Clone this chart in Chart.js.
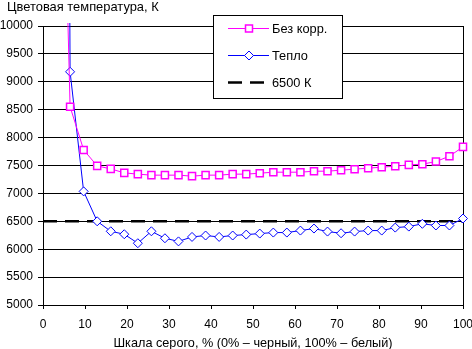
<!DOCTYPE html>
<html>
<head>
<meta charset="utf-8">
<script src="https://cdn.jsdelivr.net/npm/chart.js@4/dist/chart.umd.min.js"></script>
<style>
html,body{margin:0;padding:0;background:#fff;}
#wrap{width:472px;height:349px;position:relative;}
</style>
</head>
<body>
<div id="wrap"><canvas id="c" width="472" height="349"></canvas></div>
<script>
// ---- data ----
const grayPercent = [3.23, 6.45, 9.68, 12.90, 16.13, 19.35, 22.58, 25.81, 29.03, 32.26, 35.48, 38.71, 41.94, 45.16, 48.39, 51.61, 54.84, 58.06, 61.29, 64.52, 67.74, 70.97, 74.19, 77.42, 80.65, 83.87, 87.10, 90.32, 93.55, 96.77, 100];
const noCorrection = [18000, 8554, 7779, 7493, 7439, 7368, 7345, 7327, 7327, 7327, 7309, 7327, 7327, 7345, 7345, 7362, 7380, 7380, 7380, 7398, 7398, 7416, 7434, 7452, 7470, 7488, 7511, 7524, 7571, 7666, 7834];
const warm = [60000, 9179, 7036, 6500, 6321, 6268, 6107, 6321, 6196, 6140, 6220, 6245, 6220, 6245, 6262, 6280, 6298, 6298, 6334, 6370, 6316, 6286, 6316, 6334, 6334, 6387, 6405, 6455, 6425, 6425, 6550];
const referenceX = [0, 100];
const referenceK = [6500, 6500];
const seriesNames = ['Без корр.', 'Тепло', '6500 К'];
const yTitle = 'Цветовая температура, К';
const xTitle = 'Шкала серого, % (0% – черный, 100% – белый)';
const xTicks = [0, 10, 20, 30, 40, 50, 60, 70, 80, 90, 100];
const yTicks = [5000, 5500, 6000, 6500, 7000, 7500, 8000, 8500, 9000, 9500, 10000];

const FONT = '"Liberation Sans", Arial, sans-serif';
const toPts = (xs, ys) => xs.map((x, i) => ({x: x, y: ys[i]}));

const textPlugin = {
  id: 'texts',
  afterDraw(chart) {
    const ctx = chart.ctx;
    const area = chart.chartArea;
    ctx.save();
    ctx.fillStyle = '#000';
    ctx.font = '12.9px ' + FONT;
    ctx.textBaseline = 'middle';
    ctx.textAlign = 'left';
    ctx.fillText(yTitle, 7, 7);
    ctx.font = '12.7px ' + FONT;
    ctx.textAlign = 'center';
    ctx.fillText(xTitle, (area.left + area.right) / 2, 343);

    // legend box
    const bx = 213.5, by = 15.5, bw = 129, bh = 83;
    ctx.fillStyle = '#fff';
    ctx.fillRect(bx, by, bw, bh);
    ctx.strokeStyle = '#000';
    ctx.lineWidth = 1;
    ctx.strokeRect(bx, by, bw, bh);

    const ds = chart.data.datasets;
    const rows = [28.5, 55.5, 82.5];
    const x0 = 228, x1 = 269, xm = 249;
    // row 1
    ctx.strokeStyle = ds[0].borderColor; ctx.lineWidth = 1;
    ctx.beginPath(); ctx.moveTo(x0, rows[0]); ctx.lineTo(x1, rows[0]); ctx.stroke();
    ctx.fillStyle = '#fff'; ctx.lineWidth = 1.5;
    ctx.fillRect(xm - 3.5, rows[0] - 3.5, 7, 7);
    ctx.strokeRect(xm - 3.5, rows[0] - 3.5, 7, 7);
    // row 2
    ctx.strokeStyle = ds[1].borderColor; ctx.lineWidth = 1;
    ctx.beginPath(); ctx.moveTo(x0, rows[1]); ctx.lineTo(x1, rows[1]); ctx.stroke();
    ctx.beginPath();
    ctx.moveTo(xm, rows[1] - 4.5); ctx.lineTo(xm + 4.5, rows[1]); ctx.lineTo(xm, rows[1] + 4.5); ctx.lineTo(xm - 4.5, rows[1]); ctx.closePath();
    ctx.fillStyle = '#fff'; ctx.fill(); ctx.stroke();
    // row 3
    ctx.strokeStyle = ds[2].borderColor; ctx.lineWidth = 2.5;
    ctx.setLineDash([14, 8]);
    ctx.beginPath(); ctx.moveTo(x0, rows[2]); ctx.lineTo(x1 - 5, rows[2]); ctx.stroke();
    ctx.setLineDash([]);

    ctx.fillStyle = '#000';
    ctx.font = '12.8px ' + FONT;
    ctx.textAlign = 'left';
    for (let i = 0; i < 3; i++) ctx.fillText(seriesNames[i], 272, rows[i] + 0.5);
    ctx.restore();
  }
};

new Chart(document.getElementById('c'), {
  type: 'line',
  data: {
    datasets: [
      {
        label: seriesNames[0],
        data: toPts(grayPercent, noCorrection),
        borderColor: '#FF00FF',
        backgroundColor: '#FFFFFF',
        borderWidth: 1,
        pointStyle: 'rect',
        pointRadius: 5,
        pointBorderWidth: 1.5,
        pointBackgroundColor: '#FFFFFF',
        pointBorderColor: '#FF00FF',
        tension: 0,
        clip: {left: 8, top: 3, right: 8, bottom: 8}
      },
      {
        label: seriesNames[1],
        data: toPts(grayPercent, warm),
        borderColor: '#0000FF',
        backgroundColor: '#FFFFFF',
        borderWidth: 1,
        pointStyle: 'rectRot',
        pointRadius: 4.5,
        pointBorderWidth: 1,
        pointBackgroundColor: '#FFFFFF',
        pointBorderColor: '#0000FF',
        tension: 0,
        clip: {left: 8, top: 3, right: 8, bottom: 8}
      },
      {
        label: seriesNames[2],
        data: toPts(referenceX, referenceK),
        borderColor: '#000000',
        borderWidth: 2.5,
        borderDash: [14, 8],
        pointRadius: 0,
        tension: 0
      }
    ]
  },
  options: {
    responsive: false,
    animation: false,
    events: [],
    layout: {padding: {top: 26, right: 9, left: 0, bottom: 0}},
    plugins: {legend: {display: false}, tooltip: {enabled: false}, title: {display: false}},
    scales: {
      x: {
        type: 'linear',
        min: 0, max: 100,
        afterBuildTicks: (s) => { s.ticks = xTicks.map(v => ({value: v})); },
        afterFit: (s) => { s.height = 44; s.paddingLeft = 0; s.paddingRight = 0; },
        ticks: {color: '#000', font: {family: FONT, size: 12}, padding: 8, maxRotation: 0, autoSkip: false,
                callback: (v) => String(v)},
        grid: {
          color: (c) => (c.tick && c.tick.value === 100) ? '#000' : 'rgba(0,0,0,0)',
          tickColor: '#000',
          tickLength: 4,
          lineWidth: 1,
          drawOnChartArea: true
        },
        border: {display: true, color: '#000', width: 1}
      },
      y: {
        type: 'linear',
        min: 5000, max: 10000,
        afterBuildTicks: (s) => { s.ticks = yTicks.map(v => ({value: v})); },
        afterFit: (s) => { s.width = 43; s.paddingTop = 0; s.paddingBottom = 0; },
        ticks: {color: '#000', font: {family: FONT, size: 12}, padding: 5, autoSkip: false,
                callback: (v) => String(v)},
        grid: {color: '#000', tickColor: '#000', tickLength: 5, lineWidth: 1},
        border: {display: true, color: '#000', width: 1}
      }
    }
  },
  plugins: [textPlugin]
});
</script>
</body>
</html>
